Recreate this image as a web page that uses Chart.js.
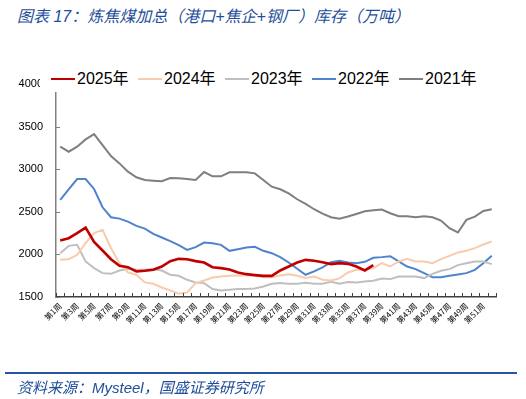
<!DOCTYPE html>
<html>
<head>
<meta charset="utf-8">
<script src="https://cdn.jsdelivr.net/npm/chart.js@4.4.0/dist/chart.umd.min.js"></script>
<style>
    body { margin: 0; width: 526px; height: 399px; background: #fff; position: relative; overflow: hidden; font-family: "Liberation Sans", "Noto Sans CJK SC", sans-serif; }
    #title { position: absolute; left: 17px; top: 3px; font-size: 16px; font-style: italic; color: #1F4E9A; white-space: nowrap; font-family: "Liberation Sans", "Noto Sans CJK SC"; }
    #chart { position: absolute; left: 0; top: 0; }
    #legend { position: absolute; left: 40px; top: 67px; width: 450px; height: 25px; background: #fff; }
    .item { position: absolute; top: 0; height: 23px; line-height: 23px; font-size: 16px; color: #000; white-space: nowrap; }
    .item i { position: absolute; left: 0; top: 11px; width: 24px; height: 2px; }
    .item span { position: absolute; left: 26px; top: 0; }
    #rule { position: absolute; left: 5px; top: 372px; width: 512px; height: 2px; background: #2456A4; }
    #source { position: absolute; left: 17px; top: 376px; font-size: 15px; font-style: italic; color: #1F4E9A; white-space: nowrap; }
</style>
</head>
<body>
<div id="title">图表 17：炼焦煤加总（港口+焦企+钢厂）库存（万吨）</div>
<canvas id="chart" width="526" height="399"></canvas>
<div id="legend"></div>
<div id="rule"></div>
<div id="source">资料来源：Mysteel，国盛证券研究所</div>
<script>
const weeks = ['第1周', '第2周', '第3周', '第4周', '第5周', '第6周', '第7周', '第8周', '第9周', '第10周',
    '第11周', '第12周', '第13周', '第14周', '第15周', '第16周', '第17周', '第18周', '第19周', '第20周',
    '第21周', '第22周', '第23周', '第24周', '第25周', '第26周', '第27周', '第28周', '第29周', '第30周',
    '第31周', '第32周', '第33周', '第34周', '第35周', '第36周', '第37周', '第38周', '第39周', '第40周',
    '第41周', '第42周', '第43周', '第44周', '第45周', '第46周', '第47周', '第48周', '第49周', '第50周',
    '第51周', '第52周'];

const y2025 = [2163, 2190, 2249, 2315, 2147, 2046, 1944, 1866, 1850, 1800, 1808, 1819, 1858, 1921, 1948, 1944,
    1921, 1905, 1850, 1839, 1823, 1788, 1768, 1757, 1748, 1748, 1811, 1858, 1905, 1936, 1925, 1909, 1886, 1897,
    1889, 1858, 1812, 1875];

const y2024 = [1936, 1944, 1995, 2132, 2249, 2288, 2073, 1897, 1788, 1761, 1671, 1655, 1612, 1577, 1538, 1554,
    1663, 1694, 1729, 1741, 1749, 1753, 1753, 1753, 1733, 1733, 1753, 1768, 1749, 1722, 1741, 1702, 1694, 1718,
    1788, 1819, 1819, 1839, 1897, 1858, 1917, 1948, 1917, 1917, 1897, 1944, 1983, 2022, 2042, 2073, 2116, 2151];

const y2023 = [2014, 2100, 2112, 1917, 1839, 1780, 1772, 1811, 1831, 1819, 1819, 1827, 1811, 1761, 1749, 1702,
    1671, 1663, 1593, 1577, 1585, 1593, 1593, 1600, 1624, 1655, 1663, 1655, 1655, 1667, 1655, 1655, 1679, 1655,
    1675, 1671, 1682, 1690, 1718, 1710, 1741, 1741, 1741, 1722, 1772, 1808, 1827, 1874, 1897, 1917, 1917, 1886];

const y2022 = [2639, 2764, 2885, 2885, 2768, 2553, 2436, 2420, 2385, 2335, 2303, 2241, 2198, 2155, 2108, 2053,
    2085, 2139, 2132, 2112, 2042, 2061, 2081, 2089, 2042, 2014, 1968, 1905, 1831, 1761, 1800, 1847, 1909, 1925,
    1905, 1897, 1913, 1960, 1968, 1979, 1917, 1858, 1827, 1780, 1733, 1733, 1749, 1765, 1780, 1819, 1897, 1983];

const y2021 = [3264, 3205, 3264, 3350, 3412, 3283, 3154, 3068, 2971, 2905, 2873, 2865, 2858, 2897, 2893, 2885,
    2873, 2967, 2916, 2916, 2963, 2963, 2963, 2951, 2873, 2795, 2764, 2717, 2647, 2592, 2530, 2479, 2436, 2420,
    2444, 2475, 2506, 2518, 2526, 2483, 2448, 2448, 2436, 2448, 2436, 2397, 2307, 2257, 2405, 2444, 2510, 2530];

const seriesNames = ['2025年', '2024年', '2023年', '2022年', '2021年'];
const seriesData = [y2025, y2024, y2023, y2022, y2021];
const seriesColors = ['#C00000', '#F8CBAD', '#BFBFBF', '#4F83CC', '#7F7F7F'];
const seriesWidths = [2.6, 2, 2, 2, 2];

// legend as html, white box sits over the top of the axis like the original
const legend = document.getElementById('legend');
seriesNames.forEach((name, i) => {
    const item = document.createElement('div');
    item.className = 'item';
    item.style.left = (11 + i * 87) + 'px';
    item.innerHTML = `<i style="background:${seriesColors[i]}"></i><span>${name}</span>`;
    legend.appendChild(item);
});

// excel style tick marks pointing into the plot
const insideTicks = {
    id: 'insideTicks',
    afterDraw(chart) {
        const { ctx, chartArea, scales: { x, y } } = chart;
        ctx.save();
        ctx.lineWidth = 1;
        ctx.strokeStyle = '#404040';
        const step = (chartArea.right - chartArea.left) / weeks.length;
        for (let i = 0; i <= weeks.length; i++) {
            const px = Math.round(chartArea.left + i * step) + 0.5;
            ctx.beginPath();
            ctx.moveTo(px, chartArea.bottom);
            ctx.lineTo(px, chartArea.bottom - 4);
            ctx.stroke();
        }
        ctx.strokeStyle = '#808080';
        y.ticks.forEach(t => {
            const py = Math.round(y.getPixelForValue(t.value)) + 0.5;
            ctx.beginPath();
            ctx.moveTo(chartArea.left, py);
            ctx.lineTo(chartArea.left + 4, py);
            ctx.stroke();
        });
        ctx.restore();
    }
};

const ctx = document.getElementById('chart').getContext('2d');
new Chart(ctx, {
    type: 'line',
    data: {
        labels: weeks,
        datasets: seriesNames.map((name, i) => ({
            label: name,
            data: seriesData[i],
            borderColor: seriesColors[i],
            backgroundColor: seriesColors[i],
            borderWidth: seriesWidths[i],
            pointRadius: 0,
            tension: 0,
            fill: false
        }))
    },
    options: {
        responsive: false,
        animation: false,
        layout: { padding: { top: 84, right: 30, bottom: 0, left: 0 } },
        plugins: {
            legend: { display: false },
            tooltip: { enabled: false }
        },
        scales: {
            x: {
                offset: true,
                afterFit: scale => { scale.height = 102; },
                grid: { display: false, drawTicks: false },
                border: { display: true, color: '#404040', width: 1.5 },
                ticks: {
                    autoSkip: false,
                    maxRotation: 45,
                    minRotation: 45,
                    padding: 4,
                    color: '#000',
                    font: { size: 8, family: 'Noto Sans CJK SC' },
                    callback: (v, i) => i % 2 === 0 ? weeks[i] : ''
                }
            },
            y: {
                min: 1500,
                max: 4000,
                afterFit: scale => { scale.width = 56; },
                grid: { display: false, drawTicks: false },
                border: { display: true, color: '#808080', width: 1.5 },
                ticks: {
                    stepSize: 500,
                    padding: 13,
                    color: '#000',
                    font: { size: 11, family: 'Liberation Sans' },
                    callback: v => String(v)
                }
            }
        }
    },
    plugins: [insideTicks]
});
</script>
</body>
</html>
